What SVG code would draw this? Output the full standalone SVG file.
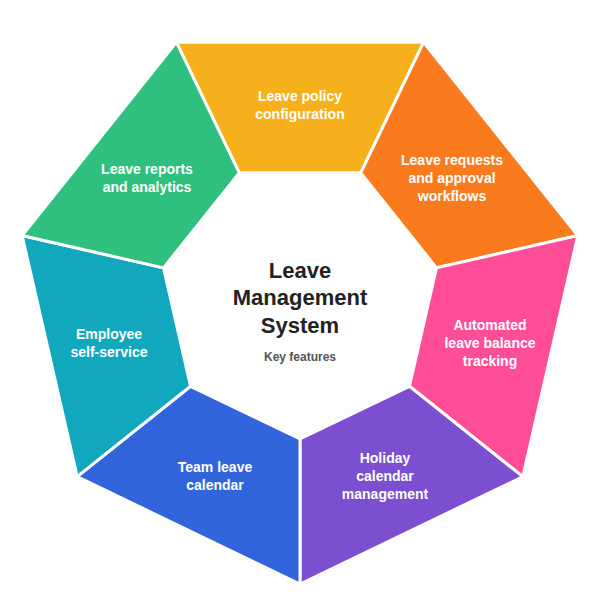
<svg xmlns="http://www.w3.org/2000/svg" width="600" height="600" viewBox="0 0 600 600">
<style>
.seg{stroke:#ffffff;stroke-width:3;stroke-linejoin:miter}
.lbl{font-family:"Liberation Sans",Arial,sans-serif;font-weight:bold;font-size:14px;fill:#ffffff;text-anchor:middle}
.title{font-family:"Liberation Sans",Arial,sans-serif;font-weight:bold;font-size:22px;fill:#222222;text-anchor:middle}
.sub{font-family:"Liberation Sans",Arial,sans-serif;font-weight:bold;font-size:12px;fill:#555555;text-anchor:middle}
</style>
<rect width="600" height="600" fill="#ffffff"/>
<g id="seg-policy">
<polygon class="seg" fill="#F5B01B" points="176.34,42.22 423.66,42.22 360.74,172.86 239.26,172.86"/>
<text class="lbl" x="300" y="101">Leave policy</text>
<text class="lbl" x="300" y="119">configuration</text>
</g>
<g id="seg-requests">
<polygon class="seg" fill="#FA7A1E" points="423.66,42.22 577.85,235.58 436.49,267.85 360.74,172.86"/>
<text class="lbl" x="452" y="165">Leave requests</text>
<text class="lbl" x="452" y="183">and approval</text>
<text class="lbl" x="452" y="201">workflows</text>
</g>
<g id="seg-balance">
<polygon class="seg" fill="#FF4D98" points="577.85,235.58 522.82,476.69 409.46,386.29 436.49,267.85"/>
<text class="lbl" x="490" y="330">Automated</text>
<text class="lbl" x="490" y="348">leave balance</text>
<text class="lbl" x="490" y="366">tracking</text>
</g>
<g id="seg-holiday">
<polygon class="seg" fill="#7B4FCF" points="522.82,476.69 300,584 300,439 409.46,386.29"/>
<text class="lbl" x="385" y="463">Holiday</text>
<text class="lbl" x="385" y="481">calendar</text>
<text class="lbl" x="385" y="499">management</text>
</g>
<g id="seg-team">
<polygon class="seg" fill="#3264DB" points="300,584 77.18,476.69 190.54,386.29 300,439"/>
<text class="lbl" x="215" y="472">Team leave</text>
<text class="lbl" x="215" y="490">calendar</text>
</g>
<g id="seg-self">
<polygon class="seg" fill="#11A8BE" points="77.18,476.69 22.15,235.58 163.51,267.85 190.54,386.29"/>
<text class="lbl" x="109" y="339">Employee</text>
<text class="lbl" x="109" y="357">self-service</text>
</g>
<g id="seg-reports">
<polygon class="seg" fill="#2FBF7E" points="22.15,235.58 176.34,42.22 239.26,172.86 163.51,267.85"/>
<text class="lbl" x="147" y="174">Leave reports</text>
<text class="lbl" x="147" y="192">and analytics</text>
</g>
<g id="center">
<text class="title" x="300" y="278">Leave</text>
<text class="title" x="300" y="305">Management</text>
<text class="title" x="300" y="333">System</text>
<text class="sub" x="300" y="361">Key features</text>
</g>
<g id="connectors"></g>
</svg>
